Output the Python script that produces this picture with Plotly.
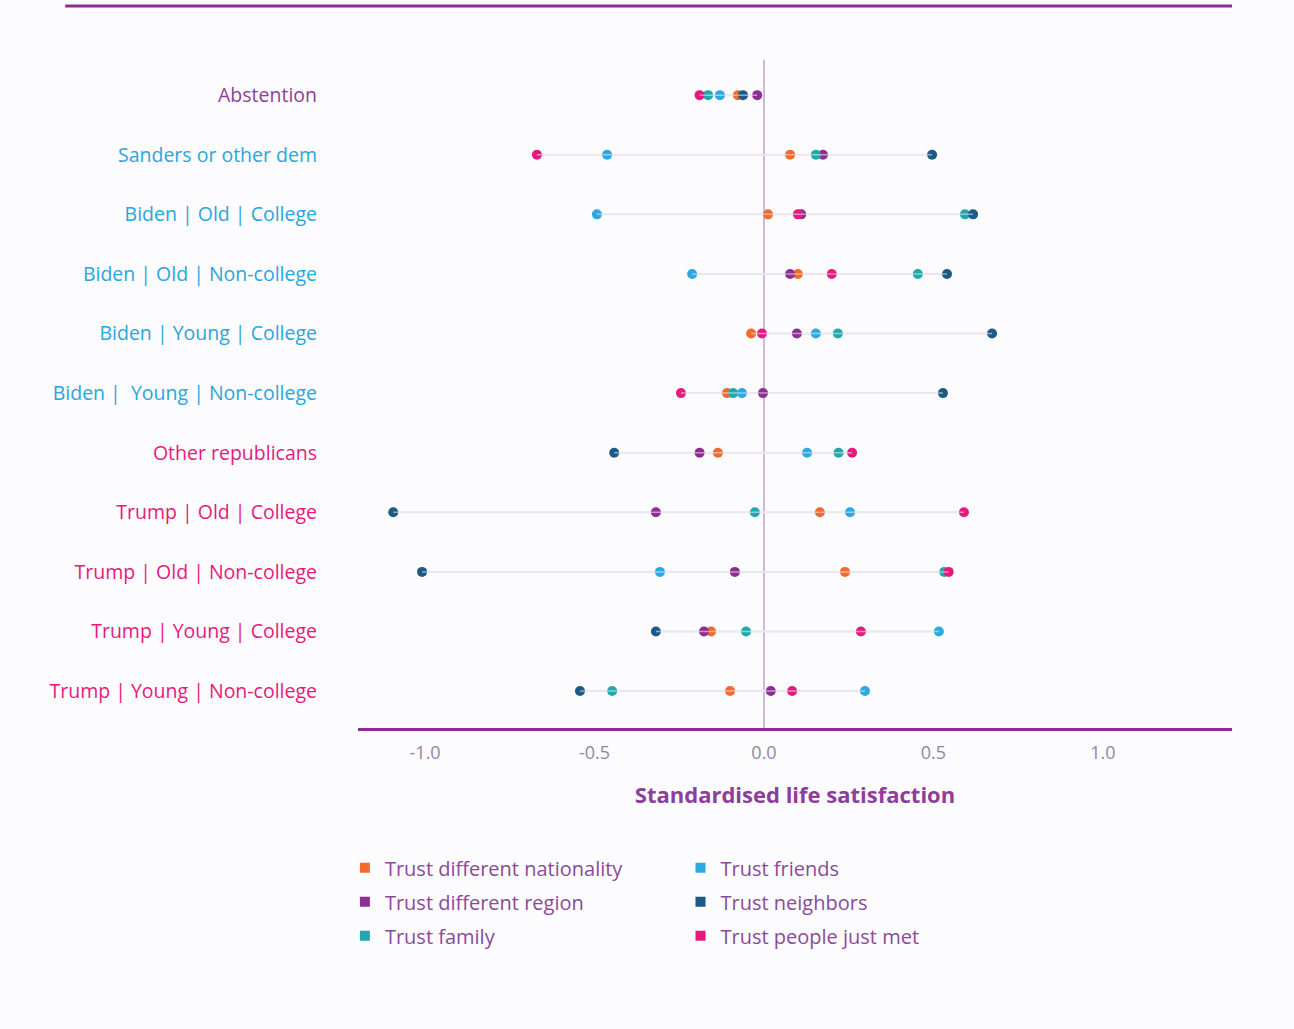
import plotly.graph_objects as go

# Voter groups, top to bottom
groups = [
    "Abstention",
    "Sanders or other dem",
    "Biden | Old | College",
    "Biden | Old | Non-college",
    "Biden | Young | College",
    "Biden |  Young | Non-college",
    "Other republicans",
    "Trump | Old | College",
    "Trump | Old | Non-college",
    "Trump | Young | College",
    "Trump | Young | Non-college",
]
group_colors = ["#8e3d9c"] + ["#2aa6de"] * 5 + ["#e6197d"] * 5

# Standardised life satisfaction by trust measure (one value per group)
trust_nationality = [-0.077, 0.077, 0.012, 0.100, -0.038, -0.109, -0.136, 0.165, 0.239, -0.156, -0.100]
trust_region = [-0.020, 0.174, 0.110, 0.077, 0.097, -0.003, -0.190, -0.319, -0.086, -0.177, 0.020]
trust_family = [-0.165, 0.153, 0.593, 0.454, 0.218, -0.091, 0.220, -0.027, 0.532, -0.053, -0.448]
trust_friends = [-0.130, -0.463, -0.493, -0.212, 0.153, -0.065, 0.127, 0.254, -0.307, 0.516, 0.298]
trust_neighbors = [-0.062, 0.496, 0.617, 0.540, 0.673, 0.528, -0.442, -1.094, -1.009, -0.319, -0.543]
trust_just_met = [-0.190, -0.670, 0.100, 0.200, -0.006, -0.245, 0.260, 0.590, 0.545, 0.286, 0.083]

series = [
    ("Trust different nationality", trust_nationality, "#f26a2c"),
    ("Trust different region", trust_region, "#8b2f93"),
    ("Trust family", trust_family, "#1ea9ae"),
    ("Trust friends", trust_friends, "#2ca9e1"),
    ("Trust neighbors", trust_neighbors, "#1b5b86"),
    ("Trust people just met", trust_just_met, "#e6197d"),
]

PURPLE = "#8e2c96"
BG = "#fcfbfd"
FONT = "Open Sans, sans-serif"

fig = go.Figure()

# faint range line across each group's spread
for i, g in enumerate(groups):
    vals = [s[1][i] for s in series]
    fig.add_trace(go.Scatter(
        x=[min(vals), max(vals)], y=[g, g], mode="lines",
        line=dict(color="#e6e2ea", width=2), showlegend=False, hoverinfo="skip",
    ))

# dots
for name, vals, color in series:
    fig.add_trace(go.Scatter(
        x=vals, y=groups, mode="markers", name=name,
        marker=dict(color=color, size=10, line=dict(width=0)),
        showlegend=False,
    ))

# thin highlight stripe through the dots
for i, g in enumerate(groups):
    vals = sorted(s[1][i] for s in series)
    fig.add_trace(go.Scatter(
        x=[vals[0], vals[-1]], y=[g, g], mode="lines",
        line=dict(color="rgba(240,236,244,0.55)", width=1.5),
        showlegend=False, hoverinfo="skip",
    ))

# legend entries, two columns of three
for k, (name, vals, color) in enumerate(series):
    fig.add_trace(go.Scatter(
        x=[None], y=[None], mode="markers", name=name,
        marker=dict(color=color, size=10, symbol="square"),
        legend="legend" if k < 3 else "legend2",
        legendgroup=name, showlegend=True,
    ))

ticktext = [f'<span style="color:{c}">{g}</span>' for g, c in zip(groups, group_colors)]

legend_common = dict(
    bgcolor="rgba(0,0,0,0)",
    font=dict(family=FONT, size=20, color="#8a4a9a"),
    tracegroupgap=5,
    itemwidth=30,
    yanchor="top",
)

fig.update_layout(
    width=1294, height=1029,
    margin=dict(l=358, r=62, t=60, b=301),
    paper_bgcolor=BG, plot_bgcolor=BG,
    font=dict(family=FONT),
    xaxis=dict(
        range=[-1.198, 1.381],
        tickvals=[-1.0, -0.5, 0.0, 0.5, 1.0],
        ticktext=["-1.0", "-0.5", "0.0", "0.5", "1.0"],
        tickfont=dict(size=18, color="#8d8a9c"),
        ticks="outside", ticklen=7, tickcolor="rgba(0,0,0,0)",
        showgrid=False,
        zeroline=True, zerolinecolor="#cdb8da", zerolinewidth=1.5,
        showline=True, linecolor=PURPLE, linewidth=2.5,
        title=dict(text="<b>Standardised life satisfaction</b>",
                   font=dict(size=22, color="#8e3d9c"), standoff=25),
    ),
    yaxis=dict(
        type="category", categoryorder="array", categoryarray=groups,
        range=[10.62, -0.59],
        tickvals=groups, ticktext=ticktext,
        tickfont=dict(size=19.5),
        showgrid=False, zeroline=False, showline=False,
        ticks="", ticklabelstandoff=40,
    ),
    legend=dict(x=-0.015, y=-0.180, xanchor="left", **legend_common),
    legend2=dict(x=0.369, y=-0.180, xanchor="left", **legend_common),
    shapes=[dict(
        type="line", xref="paper", yref="paper",
        x0=-0.335, x1=1.0, y0=1.0808, y1=1.0808,
        line=dict(color=PURPLE, width=3),
    )],
)

fig.write_html("out.html")
